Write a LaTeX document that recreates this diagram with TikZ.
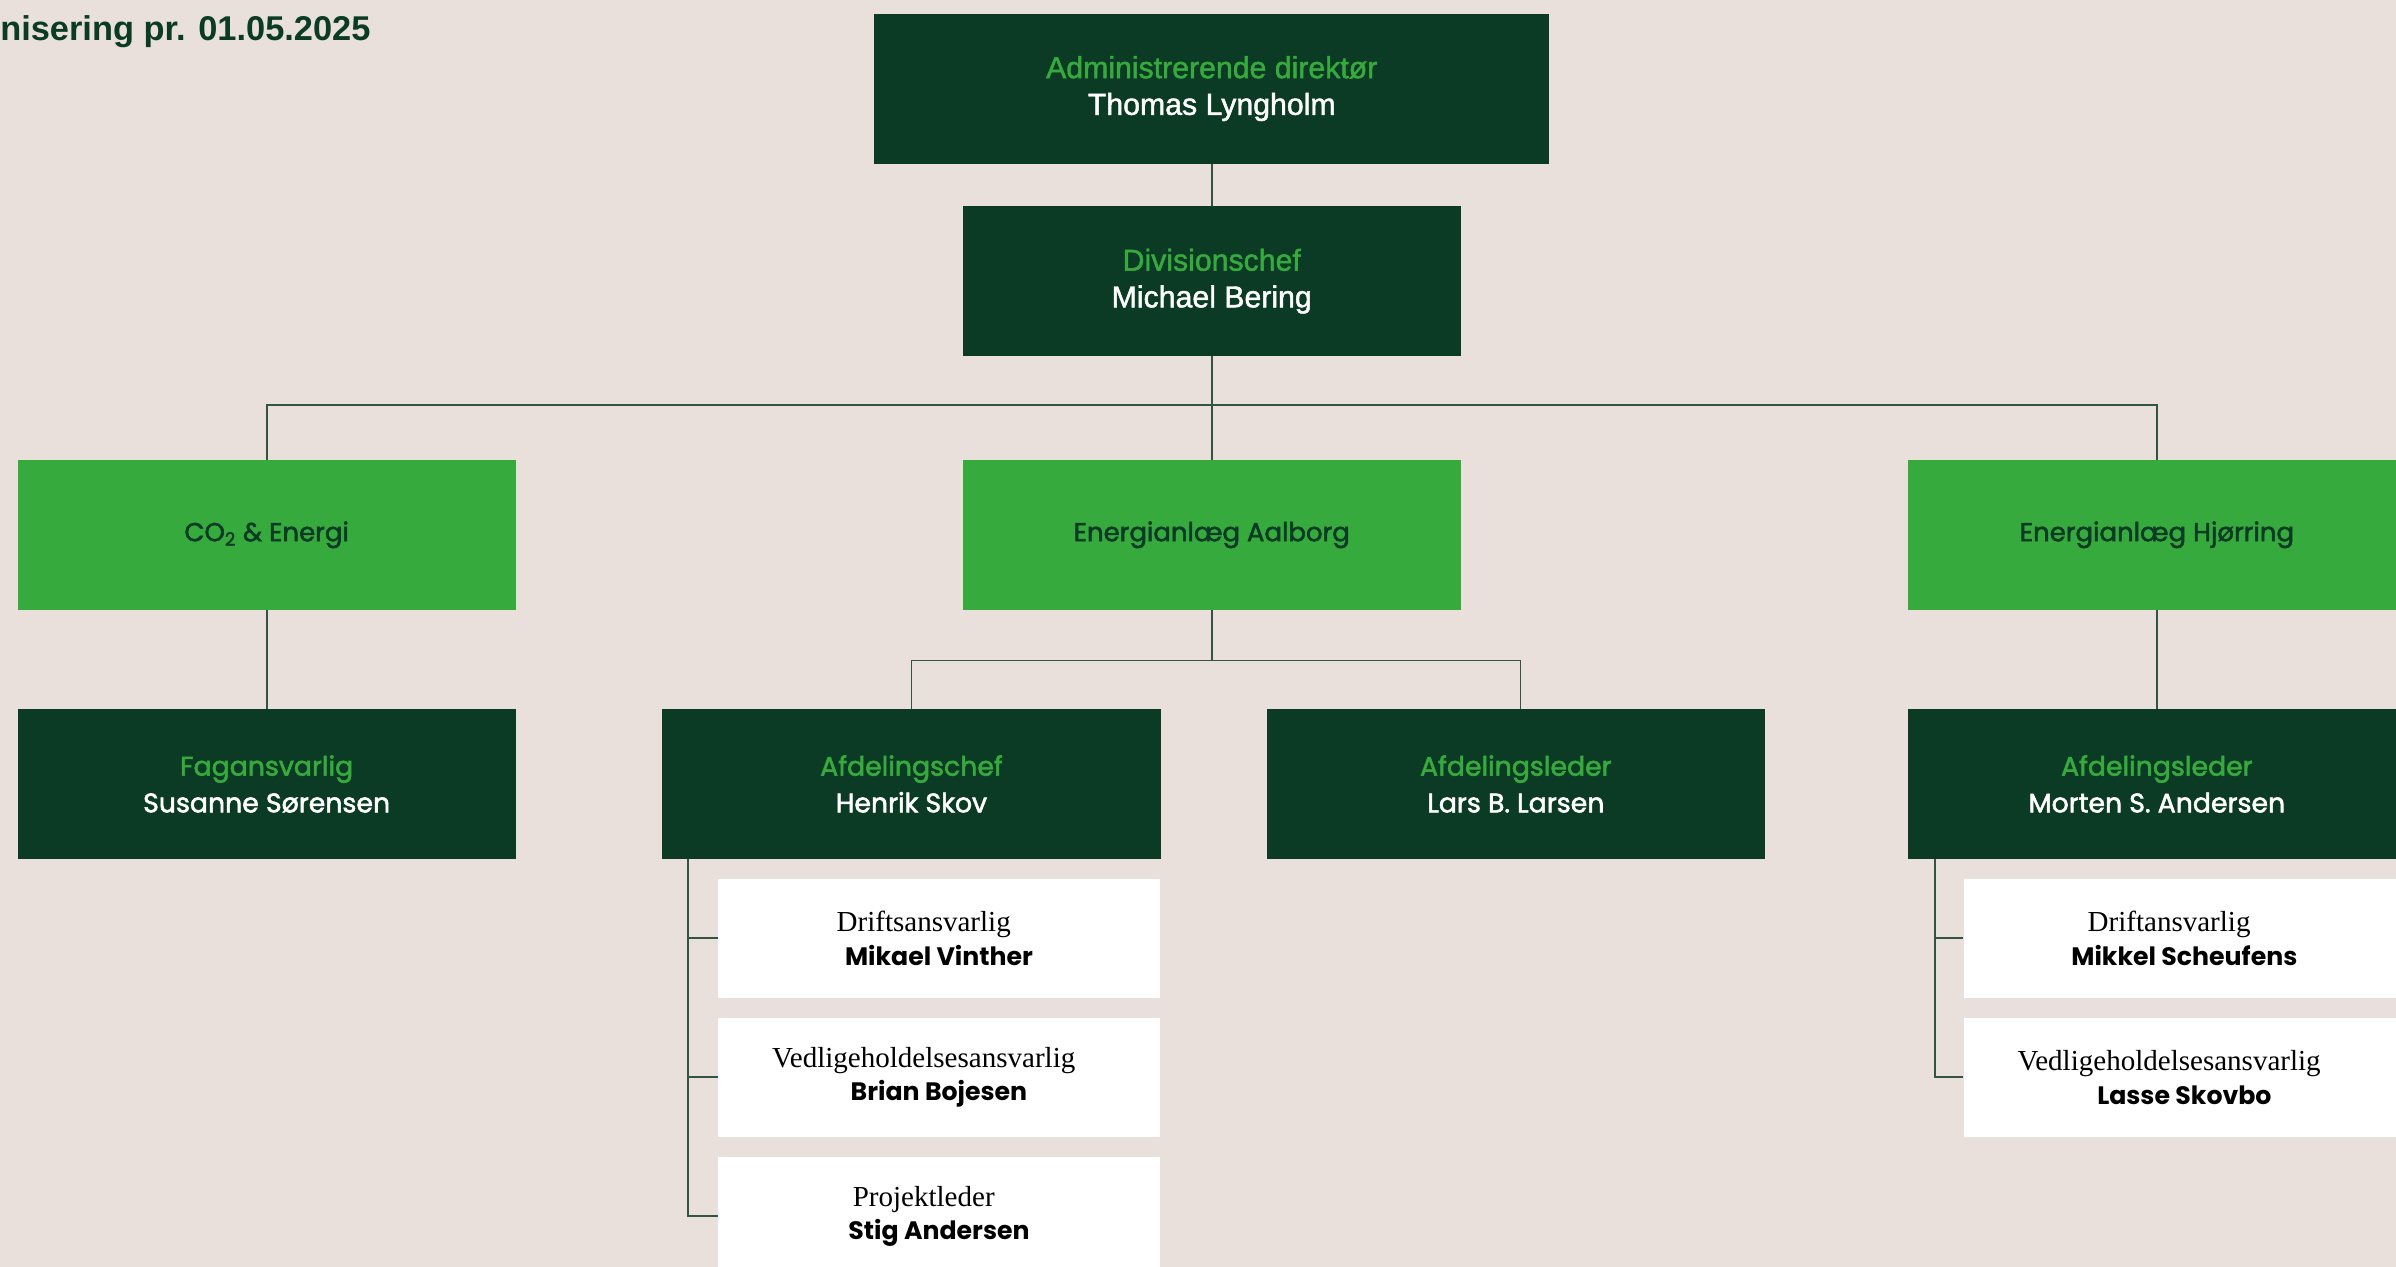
\documentclass[tikz,border=0pt]{standalone}
\usepackage{fontspec}
\setmainfont{Liberation Sans}
\newfontfamily\popfont{Poppins}
\newfontfamily\popmed{Poppins}[FakeBold=2]
\newfontfamily\topfont{Liberation Sans}[FakeBold=1.5]
\newfontfamily\serfont{Liberation Serif}
\definecolor{bg}{HTML}{E9E0DB}
\definecolor{darkgreen}{HTML}{0B3B24}
\definecolor{lightgreen}{HTML}{37AA3E}
\definecolor{linegreen}{HTML}{335442}
\begin{document}
\begin{tikzpicture}[x=1pt,y=-1pt,
  box/.style={minimum width=326pt,minimum height=98pt,inner sep=0pt,align=center},
  topbox/.style={box,fill=darkgreen,text=white,font=\topfont\fontsize{19.8}{24}\selectfont},
  unitbox/.style={box,fill=lightgreen,text=darkgreen,font=\popmed\fontsize{17}{20}\selectfont},
  leadbox/.style={box,fill=darkgreen,text=white,font=\popmed\fontsize{17.5}{24}\selectfont},
  staffbox/.style={minimum width=289pt,minimum height=78pt,inner sep=0pt,align=center,fill=white,text=black,font=\fontsize{19}{22}\selectfont},
  conn/.style={draw=linegreen,line width=1.2pt}]
\useasboundingbox (0,0) rectangle (1568,829);
\fill[bg] (0,0) rectangle (1568,829);
\clip (0,0) rectangle (1568,829);
\newcommand\role[1]{\textcolor{lightgreen}{#1}}
\newcommand\staff[2]{{\serfont #1}\hspace*{20pt}\\{\popfont\bfseries\fontsize{16.5}{22}\selectfont #2}}
\node[anchor=west,inner sep=0pt,text=darkgreen,font=\bfseries\fontsize{22.5}{22.5}\selectfont] (title) at (0,21) {nisering pr. 01.05.2025};
\node[topbox,minimum width=442pt] (admin) at (793,58) {\role{Administrerende direktør}\\Thomas Lyngholm};
\node[topbox] (divchef) at (793,184) {\role{Divisionschef}\\Michael Bering};
\node[unitbox] (co2) at (174.5,350) {CO\textsubscript{2} \& Energi};
\node[unitbox] (aalborg) at (793,350) {Energianlæg Aalborg};
\node[unitbox] (hjoerring) at (1411.5,350) {Energianlæg Hjørring};
\node[leadbox] (fag) at (174.5,513) {\role{Fagansvarlig}\\Susanne Sørensen};
\node[leadbox] (henrik) at (596.5,513) {\role{Afdelingschef}\\Henrik Skov};
\node[leadbox] (lars) at (992,513) {\role{Afdelingsleder}\\Lars B. Larsen};
\node[leadbox] (morten) at (1411.5,513) {\role{Afdelingsleder}\\Morten S. Andersen};
\node[staffbox] (drift1) at (614.5,614) {\staff{Driftsansvarlig}{Mikael Vinther}};
\node[staffbox] (vedl1) at (614.5,705) {\staff{Vedligeholdelsesansvarlig}{Brian Bojesen}};
\node[staffbox] (proj1) at (614.5,796) {\staff{Projektleder}{Stig Andersen}};
\node[staffbox] (drift2) at (1429.5,614) {\staff{Driftansvarlig}{Mikkel Scheufens}};
\node[staffbox] (vedl2) at (1429.5,705) {\staff{Vedligeholdelsesansvarlig}{Lasse Skovbo}};
\draw[conn] (admin.south)--(divchef.north);
\draw[conn] (divchef.south)--(aalborg.north);
\draw[conn] (co2.north)--++(0,-36)-|(hjoerring.north);
\draw[conn] (co2.south)--(fag.north);
\draw[conn] (hjoerring.south)--(morten.north);
\draw[conn] (aalborg.south)--++(0,33)coordinate(abus);
\draw[conn] (henrik.north)|-(abus)-|([xshift=3pt]lars.north);
\draw[conn] ([xshift=17pt]henrik.south west)|-(proj1.west);
\draw[conn] (drift1.west)--++(-19,0);
\draw[conn] (vedl1.west)--++(-19,0);
\draw[conn] ([xshift=18pt]morten.south west)|-(vedl2.west);
\draw[conn] (drift2.west)--++(-18,0);
\end{tikzpicture}
\end{document}
